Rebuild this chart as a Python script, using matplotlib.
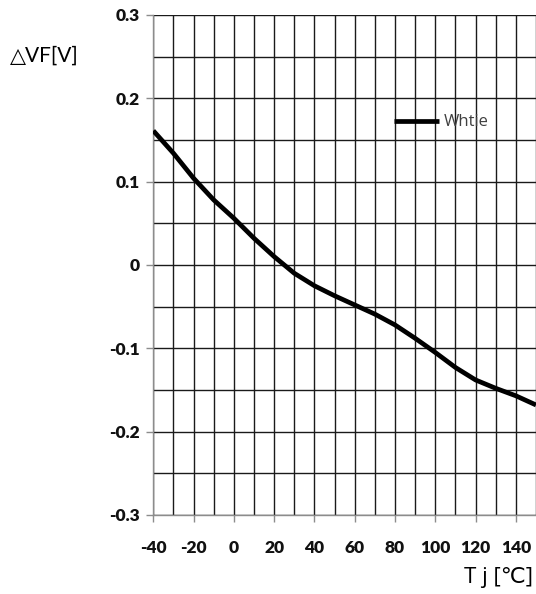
import matplotlib.pyplot as plt
from matplotlib.ticker import MultipleLocator
import numpy as np

# Forward voltage shift vs junction temperature
temp_c = [-40, -30, -20, -10, 0, 10, 20, 30, 40, 50,
          60, 70, 80, 90, 100, 110, 120, 130, 140, 150]
delta_vf = [0.161, 0.134, 0.104, 0.078, 0.056, 0.032, 0.010, -0.010, -0.025, -0.037,
            -0.048, -0.059, -0.072, -0.088, -0.105, -0.123, -0.138, -0.148, -0.157, -0.168]
series_name = 'Whtie'
x_ticks = [-40, -20, 0, 20, 40, 60, 80, 100, 120, 140]
y_ticks = [-0.3, -0.2, -0.1, 0, 0.1, 0.2, 0.3]

plt.rcParams['font.family'] = ['Lato', 'DejaVu Sans']

fig = plt.figure(figsize=(5.36, 5.94), dpi=100)
ax = fig.add_axes([0.286, 0.133, 0.714, 0.842])

ax.plot(temp_c, delta_vf, color='black', lw=3.4, solid_joinstyle='round',
        solid_capstyle='butt', label=series_name, zorder=3)

ax.xaxis.set_minor_locator(MultipleLocator(10))
ax.yaxis.set_minor_locator(MultipleLocator(0.05))
ax.set_xticks(x_ticks)
ax.set_xticklabels([str(v) for v in x_ticks])
ax.set_yticks(y_ticks)
ax.set_yticklabels(['%g' % v for v in y_ticks])
ax.set_xlim(-40, 150)
ax.set_ylim(-0.3, 0.3)

ax.grid(which='both', color='#1a1a1a', lw=1.0, zorder=1)
ax.set_axisbelow(True)

for s in ['top', 'right']:
    ax.spines[s].set_visible(False)
for s in ['left', 'bottom']:
    ax.spines[s].set_color('#8c8c8c')
    ax.spines[s].set_linewidth(1.0)

ax.tick_params(which='major', length=5, color='#8c8c8c', width=1.0,
               labelsize=12.5, labelcolor='#111111')
ax.tick_params(axis='x', which='major', pad=13)
ax.tick_params(axis='y', which='major', pad=5)
ax.tick_params(which='minor', length=0)
for lbl in ax.get_xticklabels() + ax.get_yticklabels():
    lbl.set_fontweight('heavy')

fig.text(0.018, 0.907, '\u25b3VF[V]', fontsize=15, ha='left', va='center',
         family=['Lato', 'DejaVu Sans'])
fig.text(0.995, 0.027, 'T j [\u2103]', fontsize=16, ha='right', va='center',
         family=['Open Sans', 'DejaVu Sans'])

leg = ax.legend(loc='center left', bbox_to_anchor=(0.59, 0.785), frameon=False,
                handlelength=2.7, handletextpad=0.3,
                prop={'family': 'Open Sans', 'size': 12})
for t in leg.get_texts():
    t.set_color('#404040')

fig.savefig('out.png', dpi=100)
